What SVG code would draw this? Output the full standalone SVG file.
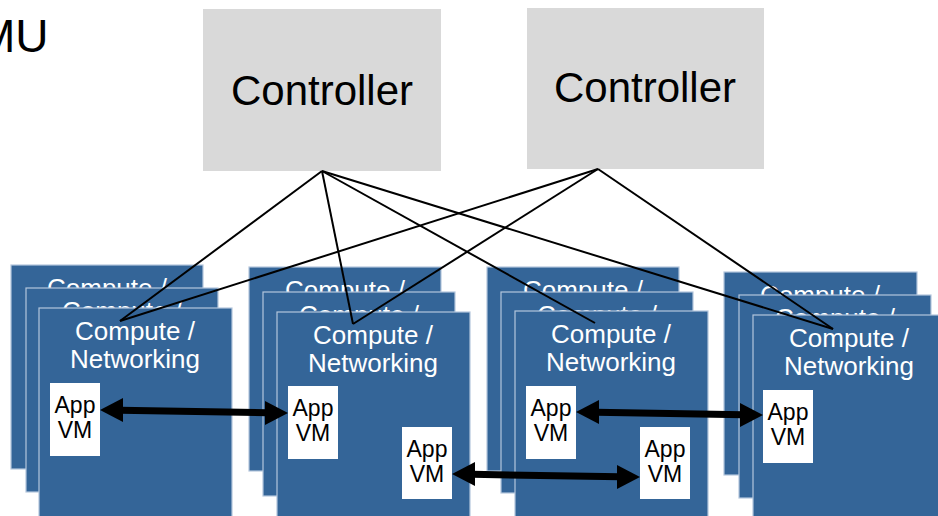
<svg xmlns="http://www.w3.org/2000/svg" width="938" height="516" viewBox="0 0 938 516">
<style>
.ctl{fill:#D9D9D9}
.ctt{font-family:"Liberation Sans",Arial,sans-serif;font-size:42px;fill:#000;text-anchor:middle}
.cn{fill:#346598;stroke:#B4C6DC;stroke-width:1.2}
.cnt{font-family:"Liberation Sans",Arial,sans-serif;font-size:26px;fill:#fff;text-anchor:middle}
.vm{fill:#fff}
.vmt{font-family:"Liberation Sans",Arial,sans-serif;font-size:23px;fill:#000;text-anchor:middle}
.ln{stroke:#000;stroke-width:2;fill:none}
.ash{stroke:#000;stroke-width:7;fill:none}
.ahd{fill:#000}
.big{font-family:"Liberation Sans",Arial,sans-serif;font-size:46px;fill:#000}
</style>
<rect width="938" height="516" fill="#fff"/>
<text class="big" x="-23" y="52">MU</text>

<g id="controller1">
<rect class="ctl" x="203" y="9" width="238" height="162"/>
<text class="ctt" x="322" y="105">Controller</text>
</g>
<g id="controller2">
<rect class="ctl" x="527" y="8" width="237" height="161"/>
<text class="ctt" x="645" y="102">Controller</text>
</g>

<g id="stack1">
<rect class="cn" x="11" y="265" width="192" height="204"/>
<text class="cnt" x="107" y="297">Compute /</text>
<rect class="cn" x="26" y="288" width="192" height="204"/>
<text class="cnt" x="122" y="320">Compute /</text>
<rect class="cn" x="39" y="308" width="193" height="210"/>
<text class="cnt" x="135" y="340">Compute /</text>
<text class="cnt" x="135" y="368">Networking</text>
<g id="vm1a"><rect class="vm" x="50" y="383" width="50" height="73"/><text class="vmt" x="75" y="413">App</text><text class="vmt" x="75" y="438">VM</text></g>
</g>

<g id="stack2">
<rect class="cn" x="249" y="267" width="192" height="204"/>
<text class="cnt" x="345" y="299">Compute /</text>
<rect class="cn" x="263" y="292" width="192" height="204"/>
<text class="cnt" x="359" y="324">Compute /</text>
<rect class="cn" x="277" y="312" width="193" height="206"/>
<text class="cnt" x="373" y="344">Compute /</text>
<text class="cnt" x="373" y="372">Networking</text>
<g id="vm2a"><rect class="vm" x="288" y="386" width="50" height="73"/><text class="vmt" x="313" y="416">App</text><text class="vmt" x="313" y="441">VM</text></g>
<g id="vm2b"><rect class="vm" x="402" y="427" width="50" height="72"/><text class="vmt" x="427" y="457">App</text><text class="vmt" x="427" y="482">VM</text></g>
</g>

<g id="stack3">
<rect class="cn" x="487" y="267" width="192" height="204"/>
<text class="cnt" x="583" y="299">Compute /</text>
<rect class="cn" x="501" y="292" width="192" height="201"/>
<text class="cnt" x="597" y="324">Compute /</text>
<rect class="cn" x="515" y="311" width="193" height="207"/>
<text class="cnt" x="611" y="343">Compute /</text>
<text class="cnt" x="611" y="371">Networking</text>
<g id="vm3a"><rect class="vm" x="526" y="386" width="50" height="73"/><text class="vmt" x="551" y="416">App</text><text class="vmt" x="551" y="441">VM</text></g>
<g id="vm3b"><rect class="vm" x="640" y="427" width="50" height="72"/><text class="vmt" x="665" y="457">App</text><text class="vmt" x="665" y="482">VM</text></g>
</g>

<g id="stack4">
<rect class="cn" x="724" y="272" width="193" height="203"/>
<text class="cnt" x="820" y="304">Compute /</text>
<rect class="cn" x="739" y="295" width="192" height="203"/>
<text class="cnt" x="835" y="327">Compute /</text>
<rect class="cn" x="753" y="315" width="193" height="206"/>
<text class="cnt" x="849" y="347">Compute /</text>
<text class="cnt" x="849" y="375">Networking</text>
<g id="vm4a"><rect class="vm" x="763" y="390" width="50" height="73"/><text class="vmt" x="788" y="420">App</text><text class="vmt" x="788" y="445">VM</text></g>
</g>

<g id="connectors">
<line class="ln" x1="322" y1="171" x2="120" y2="321"/>
<line class="ln" x1="322" y1="171" x2="353" y2="324"/>
<line class="ln" x1="322" y1="171" x2="595" y2="323"/>
<line class="ln" x1="322" y1="171" x2="833" y2="329"/>
<line class="ln" x1="598" y1="169" x2="120" y2="321"/>
<line class="ln" x1="598" y1="169" x2="353" y2="324"/>
<line class="ln" x1="598" y1="169" x2="833" y2="329"/>

<g id="arrow1">
<line class="ash" x1="120" y1="410.3" x2="268" y2="412.7"/>
<polygon class="ahd" points="100,410 123,398 123,422"/>
<polygon class="ahd" points="288,413 265,401 265,425"/>
</g>
<g id="arrow2">
<line class="ash" x1="472" y1="474.3" x2="620" y2="476.7"/>
<polygon class="ahd" points="452,474 475,462 475,486"/>
<polygon class="ahd" points="640,477 617,465 617,489"/>
</g>
<g id="arrow3">
<line class="ash" x1="596" y1="412.3" x2="743" y2="414.7"/>
<polygon class="ahd" points="576,412 599,400 599,424"/>
<polygon class="ahd" points="763,415 740,403 740,427"/>
</g>
</g>
</svg>
